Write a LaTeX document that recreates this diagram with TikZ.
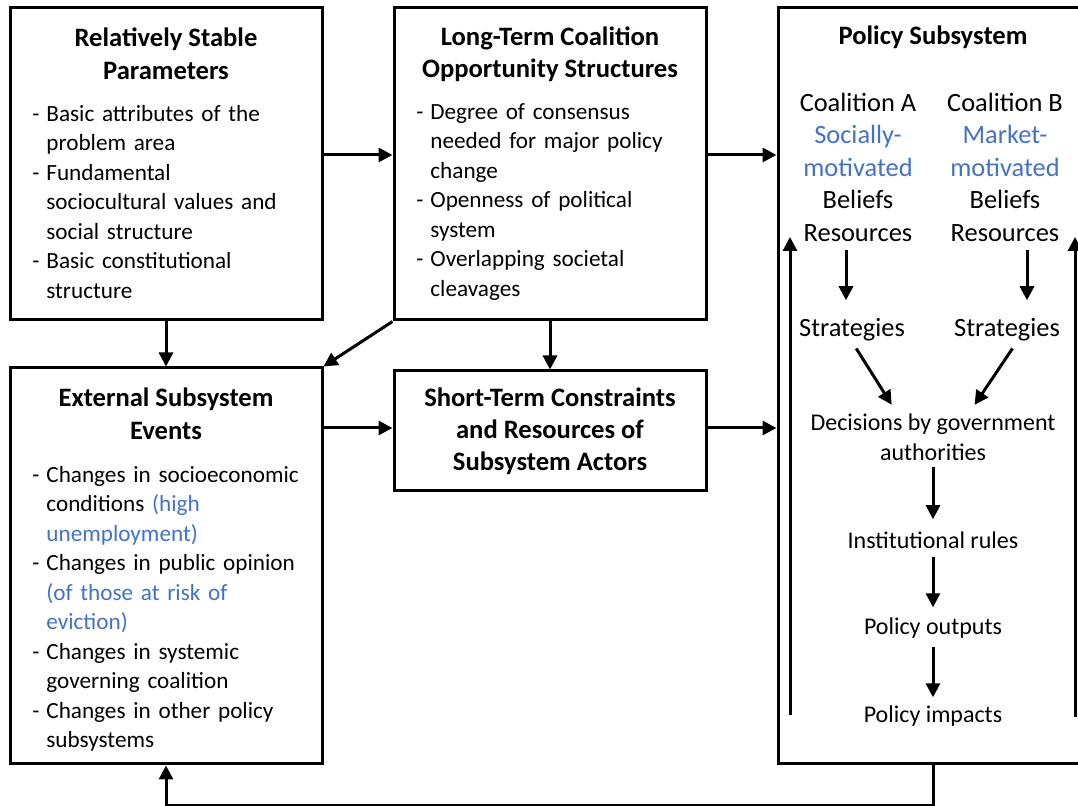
\documentclass[tikz,border=0pt]{standalone}
\usepackage{fontspec}
\setmainfont{Carlito}
\usepackage{xcolor}
\usetikzlibrary{arrows.meta,positioning,calc}
\definecolor{noteblue}{HTML}{4472C4}
\newcommand{\dashitem}[1]{\hangindent=7pt\hangafter=1\noindent\makebox[7pt][l]{-}#1\par}
\newcommand{\note}[1]{\textcolor{noteblue}{#1}}

\begin{document}
\begin{tikzpicture}[x=0.5pt, y=-0.5pt,
  box/.style={draw, line width=1.5pt, inner sep=0pt, minimum width=156pt},
  boxtitle/.style={font=\fontsize{13.3}{16.25}\selectfont\bfseries, align=center, inner sep=0pt},
  boxlist/.style={font=\fontsize{11.6}{14.75}\selectfont, text width=142pt, align=left, inner sep=0pt, anchor=west},
  actor/.style={font=\fontsize{13.2}{16.25}\selectfont, align=center, inner sep=0pt},
  stage/.style={font=\fontsize{12}{15}\selectfont, align=center, inner sep=0pt},
  arr/.style={line width=1.5pt, -{Triangle[length=7pt,width=7pt]}}]
\useasboundingbox (0,0) rectangle (1078,806);

% outer boxes
\node[box, minimum height=156pt] (stable) at (166,164) {};
\node[box, minimum height=156pt] (longterm) at (550,164) {};
\node[box, minimum height=198pt] (ext) at (166,566) {};
\node[box, minimum height=60pt, font=\fontsize{13.3}{16}\selectfont\bfseries, align=center] (short) at (550,431) {Short-Term Constraints\\and Resources of\\Subsystem Actors};
\node[box, minimum width=155pt, minimum height=378pt] (sub) at (933,386) {};

% titles and lists
\node[boxtitle] (stableT) at (166,54) {Relatively Stable\\Parameters};
\node[boxtitle] (longtermT) at (550,54) {Long-Term Coalition\\Opportunity Structures};
\node[boxtitle] (extT) at (166,414) {External Subsystem\\Events};
\node[boxtitle] (subT) at (933,37) {Policy Subsystem};

\node[boxlist] (stableL) at (32,202) {%
  \dashitem{Basic attributes of the\newline problem area}
  \dashitem{Fundamental\newline sociocultural values and\newline social structure}
  \dashitem{Basic constitutional\newline structure}};
\node[boxlist] (longtermL) at (416,202) {%
  \dashitem{Degree of consensus\newline needed for major policy\newline change}
  \dashitem{Openness of political\newline system}
  \dashitem{Overlapping societal\newline cleavages}};
\node[boxlist] (extL) at (32,609) {%
  \dashitem{Changes in socioeconomic\newline conditions \note{(high}\newline \note{unemployment)}}
  \dashitem{Changes in public opinion\newline \note{(of those at risk of}\newline \note{eviction)}}
  \dashitem{Changes in systemic\newline governing coalition}
  \dashitem{Changes in other policy\newline subsystems}};

% inside the policy subsystem
\node[actor] (coalA) at (858,167) {Coalition A\\\note{Socially-}\\\note{motivated}\\Beliefs\\Resources};
\node[actor] (coalB) at (1005,167) {Coalition B\\\note{Market-}\\\note{motivated}\\Beliefs\\Resources};
\node[actor] (stratA) at (852,330) {Strategies};
\node[actor] (stratB) at (1007,330) {Strategies};
\node[stage] (decide) at (933,437) {Decisions by government\\authorities};
\node[stage] (rules) at (933,540) {Institutional rules};
\node[stage] (outputs) at (933,628) {Policy outputs};
\node[stage] (impacts) at (933,716) {Policy impacts};

\coordinate (upLfoot) at (790,715);
\coordinate (upLhead) at (790,237);
\coordinate (upRfoot) at (1075,717);
\coordinate (upRhead) at (1075,237);

% connectors between boxes
\draw[arr] ([yshift=4.5pt]stable.east) -- ([yshift=4.5pt]longterm.west);
\draw[arr] ([yshift=4.5pt]longterm.east) -- ([yshift=4.5pt]longterm.east -| sub.west);
\draw[arr] (stable.south) -- (ext.north);
\draw[arr] (longterm.south) -- (short.north);
\draw[arr] (longterm.south west) -- (ext.north east);
\draw[arr] ([yshift=1.5pt]ext.east |- short.west) -- ([yshift=1.5pt]short.west);
\draw[arr] ([yshift=1.5pt]short.east) -- ([yshift=1.5pt]short.east -| sub.west);
\draw[arr] (sub.south) -- ++(0,40) -| (ext.south);

% connectors inside
\draw[arr, shorten <=4pt, shorten >=9pt] ([xshift=-3pt]coalA.south -| stratA.north) -- ([xshift=-3pt]stratA.north);
\draw[arr, shorten <=4pt, shorten >=9pt] ([xshift=10pt]coalB.south -| stratB.north) -- ([xshift=10pt]stratB.north);
\draw[arr, shorten <=4pt, shorten >=5pt] (stratA.south) -- ([xshift=-18pt]decide.north);
\draw[arr, shorten <=4pt, shorten >=5pt] ([xshift=5pt]stratB.south) -- ([xshift=18pt]decide.north);
\draw[arr, shorten <=3pt, shorten >=6pt] (decide.south) -- (rules.north);
\draw[arr, shorten <=4pt, shorten >=5pt] (rules.south) -- (outputs.north);
\draw[arr, shorten <=4pt, shorten >=4pt] (outputs.south) -- (impacts.north);
\draw[arr] (upLfoot) -- (upLhead);
\draw[arr] (upRfoot) -- (upRhead);
\end{tikzpicture}
\end{document}
